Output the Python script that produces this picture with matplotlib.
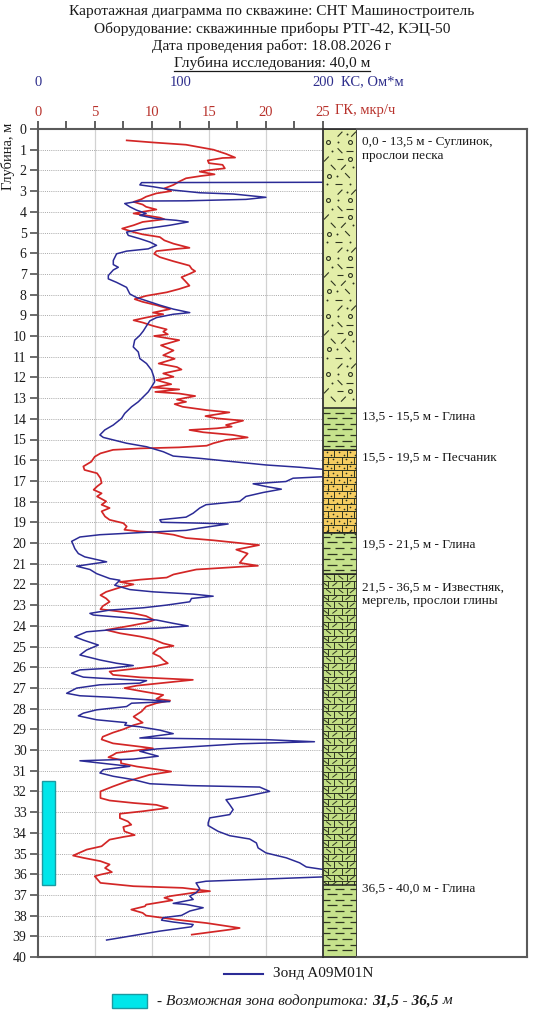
import matplotlib
matplotlib.use('Agg')
import matplotlib.pyplot as plt
from matplotlib.patches import Rectangle
from matplotlib.lines import Line2D
import numpy as np

plt.rcParams['font.family'] = ['Liberation Serif', 'DejaVu Serif']

# ---------------- data ----------------
title_lines = ["Каротажная диаграмма по скважине: СНТ Машиностроитель",
               "Оборудование: скважинные приборы РТГ-42, КЭЦ-50",
               "Дата проведения работ: 18.08.2026 г",
               "Глубина исследования: 40,0 м"]

gk_ticks = [0, 5, 10, 15, 20, 25]
kc_ticks = [0, 100, 200]
depth_ticks = list(range(0, 41))

gk_depth = [0.55, 0.65, 0.76, 1.0, 1.2, 1.38, 1.4, 1.52, 1.65, 1.73, 1.9, 1.98, 2.06, 2.19, 2.27, 2.38,
            2.54, 2.7, 2.87, 3.0, 3.11, 3.27, 3.39, 3.52, 3.65, 3.76, 3.89, 4.0, 4.08, 4.13, 4.28, 4.36,
            4.49, 4.65, 4.81, 4.98, 5.09, 5.22, 5.38, 5.54, 5.74, 5.79, 5.9, 6.03, 6.19, 6.39, 6.6, 6.76,
            6.87, 7.0, 7.16, 7.33, 7.57, 7.73, 7.89, 8.06, 8.22, 8.35, 8.51, 8.7, 8.87, 8.95, 9.11, 9.24,
            9.35, 9.51, 9.68, 9.79, 9.92, 10.0, 10.2, 10.45, 10.7, 10.93, 11.1, 11.33, 11.5, 11.62, 11.81,
            11.97, 12.13, 12.33, 12.49, 12.58, 12.7, 12.78, 12.9, 13.07, 13.18, 13.29, 13.42, 13.58, 13.69,
            13.87, 13.98, 14.09, 14.3, 14.38, 14.46, 14.54, 14.65, 14.78, 14.9, 15.02, 15.18, 15.3, 15.38,
            15.43, 15.5, 15.67, 15.83, 16.07, 16.3, 16.47, 16.63, 16.87, 17.1, 17.27, 17.43, 17.6, 17.75,
            17.99, 18.15, 18.31, 18.47, 18.72, 18.88, 19.04, 19.2, 19.36, 19.44, 19.49, 19.6, 19.76, 19.87,
            20.0, 20.1, 20.32, 20.51, 20.75, 20.96, 21.1, 21.15, 21.28, 21.52, 21.67, 21.77, 21.88, 22.0,
            22.15, 22.36, 22.52, 22.68, 22.84, 23.05, 23.2, 23.29, 23.4, 23.53, 23.72, 23.85, 24.0, 24.2,
            24.36, 24.52, 24.65, 24.85, 24.97, 25.09, 25.33, 25.49, 25.65, 25.81, 25.94, 26.06, 26.21,
            26.37, 26.49, 26.61, 26.74, 26.89, 27.01, 27.17, 27.34, 27.53, 27.61, 27.74, 27.9, 28.14,
            28.39, 28.68, 28.8, 29.0, 29.16, 29.36, 29.49, 29.68, 29.84, 29.92, 30.14, 30.24, 30.35, 30.48,
            30.64, 30.8, 30.93, 31.04, 31.2, 31.41, 31.52, 31.76, 32.0, 32.32, 32.44, 32.56, 32.65, 32.8,
            32.96, 33.08, 33.29, 33.45, 33.61, 33.72, 33.93, 34.11, 34.2, 34.33, 34.65, 34.81, 35.1, 35.21,
            35.37, 35.53, 35.7, 35.9, 36.02, 36.1, 36.29, 36.42, 36.58, 36.66, 36.82, 36.9, 37.06, 37.14,
            37.26, 37.39, 37.47, 37.55, 37.71, 37.87, 38.0, 38.2, 38.36, 38.6, 38.68, 38.92]
gk_value = [7.8, 10.1, 13.0, 15.4, 16.5, 17.3, 16.2, 14.9, 15.0, 16.2, 16.4, 15.1, 14.2, 15.5, 14.3, 13.0,
            12.4, 11.9, 11.1, 11.7, 10.4, 9.5, 9.1, 8.4, 9.2, 9.5, 10.4, 9.2, 8.4, 9.0, 10.7, 11.1,
            9.2, 8.4, 7.4, 8.4, 9.2, 10.7, 11.1, 11.9, 13.3, 12.2, 10.4, 10.2, 10.7, 11.9, 13.3, 13.5,
            13.8, 13.3, 12.6, 12.9, 13.3, 12.4, 11.3, 9.5, 8.5, 9.2, 10.4, 11.6, 10.1, 11.0, 9.5, 8.4,
            9.2, 10.1, 11.3, 11.0, 11.4, 10.2, 12.4, 10.8, 11.9, 11.0, 12.0, 10.6, 12.2, 12.6, 11.0,
            11.9, 10.4, 11.7, 10.1, 12.4, 10.3, 12.4, 13.8, 12.2, 13.0, 12.0, 12.7, 14.8, 16.8,
            14.7, 15.7, 18.0, 16.5, 17.0, 15.7, 13.3, 14.5, 17.1, 18.4, 16.5, 15.4, 14.8, 12.4,
            9.0, 6.6, 5.5, 5.0, 4.7, 4.0, 4.1, 5.2, 5.5, 5.6, 5.2, 4.9, 5.6, 5.2,
            6.0, 5.6, 6.3, 5.6, 5.9, 6.3, 7.5, 7.8, 7.6, 8.9, 10.4, 11.9, 13.0, 15.4,
            17.7, 19.4, 17.4, 18.4, 18.0, 17.7, 19.3, 17.7, 13.9, 11.9, 11.3, 9.0, 7.2, 8.4,
            7.2, 6.0, 5.5, 6.0, 6.3, 5.7, 5.5, 6.9, 8.4, 9.5, 10.2, 9.5, 8.1, 6.0,
            7.2, 9.0, 10.1, 11.0, 11.9, 10.6, 10.1, 10.7, 11.0, 11.4, 10.4, 8.7, 6.3,
            6.6, 9.0, 13.6, 11.3, 8.7, 7.6, 9.2, 11.0, 10.4, 11.6, 10.4, 9.5, 9.1,
            8.4, 9.2, 8.4, 7.5, 6.6, 5.7, 5.6, 6.6, 9.0, 10.1, 6.9, 6.6, 6.2, 7.3,
            7.3, 8.7, 10.4, 11.7, 9.8, 8.5, 7.8, 6.6, 5.5, 5.5, 6.3, 8.4, 10.4, 11.4,
            9.2, 7.2, 7.2, 7.9, 8.2, 7.5, 7.6, 8.5, 7.5, 6.3, 5.6, 4.3, 3.1, 4.0,
            5.5, 6.3, 5.9, 6.5, 5.5, 5.0, 5.3, 5.5, 8.4, 12.7, 15.1, 13.6, 11.6, 11.1,
            11.8, 10.4, 9.5, 9.4, 8.2, 9.2, 9.5, 12.2, 14.8, 17.7, 16.8, 13.5]

kc_depth = [2.57, 2.59, 2.7, 2.79, 2.95, 3.08, 3.14, 3.3, 3.4, 3.47, 3.48, 3.6, 3.76, 3.92, 4.08, 4.17,
            4.33, 4.41, 4.49, 4.65, 4.81, 4.98, 5.14, 5.3, 5.46, 5.62, 5.79, 5.9, 6.03, 6.35, 6.55, 6.68,
            6.81, 7.08, 7.24, 7.41, 7.65, 7.97, 8.14, 8.3, 8.51, 8.7, 8.87, 8.95, 9.11, 9.27, 9.51, 9.76,
            9.97, 10.2, 10.53, 10.77, 11.09, 11.33, 11.65, 11.97, 12.21, 12.46, 12.7, 12.94, 13.18, 13.42,
            13.74, 13.98, 14.3, 14.54, 14.78, 14.9, 15.18, 15.35, 15.59, 15.8, 15.91, 16.07, 16.23, 16.34,
            16.44, 16.6, 16.77, 16.8, 16.87, 17.03, 17.14, 17.27, 17.4, 17.56, 17.75, 17.99, 18.15, 18.31,
            18.56, 18.75, 18.88, 19.0, 19.04, 19.08, 19.28, 19.39, 19.49, 19.6, 19.71, 19.92, 20.1, 20.27,
            20.51, 20.67, 20.91, 21.0, 21.12, 21.28, 21.48, 21.72, 21.8, 22.04, 22.25, 22.36, 22.47, 22.57,
            22.68, 22.84, 23.0, 23.13, 23.24, 23.4, 23.48, 23.64, 23.72, 23.88, 24.01, 24.12, 24.17, 24.29,
            24.53, 24.69, 24.93, 25.17, 25.41, 25.65, 25.81, 25.92, 26.05, 26.13, 26.29, 26.48, 26.53,
            26.65, 26.77, 26.85, 27.01, 27.26, 27.38, 27.45, 27.58, 27.66, 27.74, 27.9, 28.06, 28.22,
            28.35, 28.54, 28.68, 28.8, 28.88, 29.04, 29.21, 29.42, 29.5, 29.6, 29.7, 29.95, 30.06, 30.3,
            30.44, 30.52, 30.63, 30.79, 30.95, 31.11, 31.27, 31.43, 31.63, 31.72, 31.79, 32.0, 32.24, 32.4,
            32.64, 32.88, 33.12, 33.28, 33.52, 33.65, 33.93, 34.14, 34.3, 34.49, 34.73, 34.97, 35.21, 35.45,
            35.65, 35.77, 35.95, 36.13, 36.23, 36.34, 36.42, 36.71, 36.9, 37.06, 37.22, 37.41, 37.46,
            37.62, 37.78, 37.99, 38.1, 38.22, 38.31, 38.43, 38.54, 38.75, 38.91, 39.18]
kc_value = [230, 72.8, 71.6, 81, 95, 113.6, 137, 160, 146, 104, 71.6, 61, 64.6, 69.3, 76, 71.6,
            83, 97, 105.5, 92.6, 76.3, 62.3, 63.5, 71.6, 78.6, 83.3, 77.5, 62.3, 55.3, 53, 53, 56.5,
            53, 49.5, 49.5, 55.3, 62.3, 64.6, 69.3, 76.3, 85.6, 95, 106.6, 95, 83.3, 78.6, 76.3, 74,
            71.6, 68, 67, 70.5, 71.6, 76.3, 79.8, 81.4, 82, 79.8, 77.5, 74, 70.5, 65.8,
            61, 58.8, 53, 47, 43.6, 46, 62.3, 76.3, 88, 95, 113.6, 137, 160, 183.6,
            200, 240, 230, 200, 179, 174, 151, 160, 170.8, 158, 146, 141.6, 118, 113.6,
            109, 104, 85.6, 86.8, 113.6, 133.5, 113.6, 104, 74, 43.6, 29.6, 23.8, 25, 26,
            28.5, 33, 48.3, 39, 27.3, 36.6, 41.3, 50.6, 57.6, 54, 64.6, 81, 109, 123,
            107.8, 106.6, 90.3, 74, 50.6, 36.6, 39, 67, 83.3, 95, 105.5, 83.3, 55.3, 34.3,
            26, 32, 42.5, 34.3, 29.6, 43.6, 55.3, 67, 50.6, 29.6, 23.8, 32, 43.6,
            76.3, 71.6, 43.6, 27.3, 20.3, 29.6, 50.6, 78.6, 92.6, 65.8, 62.3, 41.3, 32,
            28.5, 41.3, 62.3, 61, 71.6, 85.6, 95, 71.6, 160, 194, 141.6, 83.3, 71.6, 84.5,
            67, 29.6, 43.6, 64.6, 46, 43.6, 53, 67, 78.6, 106.6, 155.6, 162.6, 146, 132,
            134.6, 137, 134.6, 120.6, 119.5, 119.5, 126.5, 134.6, 148.6, 153.3, 154.5, 160, 174.3, 183.6,
            188.3, 200, 230, 200, 160, 118, 111, 113.6, 111, 106.6, 109, 95, 104,
            116, 106.6, 100.8, 88, 86.8, 95, 109, 107.8, 85.6, 71.6, 48.3]

layer_top = [0.0, 13.5, 15.5, 19.5, 21.5, 36.5]
layer_bottom = [13.5, 15.5, 19.5, 21.5, 36.5, 40.0]
layer_kind = ['loam', 'clay', 'sandstone', 'clay', 'limestone', 'clay']
layer_label = ["0,0 - 13,5 м - Суглинок,\nпрослои песка",
               "13,5 - 15,5 м - Глина",
               "15,5 - 19,5 м - Песчаник",
               "19,5 - 21,5 м - Глина",
               "21,5 - 36,5 м - Известняк,\nмергель, прослои глины",
               "36,5 - 40,0 м - Глина"]
label_y = [0.35, 13.6, 15.6, 19.8, 21.85, 36.4]

zone_top, zone_bottom = 31.5, 36.5
legend_probe = "Зонд A09M01N"
legend_zone_a = "- Возможная зона водопритока: "
legend_zone_b = "31,5 - 36,5"
legend_zone_c = " м"

# ---------------- styles ----------------
RED = '#d32626'
BLUE = '#2b2b96'
RED_T = '#b8322c'
BLUE_T = '#2e2e8c'
SPINE = '#5a5a5a'
kind_color = {'loam': '#e3eea8', 'clay': '#c6e28c', 'sandstone': '#f6cd60', 'limestone': '#c2de84'}
PAT = '#2e3520'

W, H = 534, 1024
fig = plt.figure(figsize=(W / 100, H / 100), dpi=100)


def fx(px):
    return px / W


def fy(py):
    return 1 - py / H


X0, X1, XC, XR = 37.7, 323.0, 357.0, 527.0
Y0, Y1 = 129.0, 957.0

# titles
for i, t in enumerate(title_lines):
    fig.text(fx(272), fy(12 + i * 16.9), t, ha='center', va='center', fontsize=11.1, color='#1a1a1a')

# main axes
ax = fig.add_axes([fx(X0), fy(Y1), (X1 - X0) / W, (Y1 - Y0) / H])
ax.set_xlim(0, 25)
ax.set_ylim(40, 0)
for v in gk_ticks[1:-1]:
    ax.axvline(v, color='#d2d2d2', lw=0.9, zorder=0)
for d in depth_ticks[1:-1]:
    ax.axhline(d, color='#a8a8a8', lw=0.7, ls=(0, (1, 1.2)), zorder=0)
for s in ['left', 'top', 'bottom']:
    ax.spines[s].set_color(SPINE)
    ax.spines[s].set_linewidth(1.5)
ax.spines['right'].set_visible(False)

ax.add_patch(Rectangle((0.4, zone_top), 1.1, zone_bottom - zone_top, facecolor='#00e6ea',
                       edgecolor='#1b9aa2', lw=1.0, zorder=2))
ax.plot(gk_value, gk_depth, color=RED, lw=1.25, zorder=4)

ax2 = ax.twiny()
ax2.set_xlim(0, 200)
ax2.set_ylim(40, 0)
ax2.set_xticks(kc_ticks)
ax2.tick_params(axis='x', length=0, labelsize=10.5, labelcolor=BLUE_T, pad=29)
for s in ax2.spines.values():
    s.set_visible(False)
ax2.plot(kc_value, kc_depth, color=BLUE, lw=1.1, zorder=3)

# GK ticks on top (after twiny)
ax.xaxis.set_ticks_position('top')
ax.xaxis.set_label_position('top')
ax.set_xticks(gk_ticks)
ax.set_xticks(np.arange(0, 25.01, 2.5), minor=True)
ax.tick_params(axis='x', which='both', direction='out', length=6, width=1.1, color='#333',
               top=True, bottom=False, labeltop=True, labelbottom=False)
ax.tick_params(axis='x', which='major', labelsize=10.5, labelcolor=RED_T, pad=1.5)
ax.tick_params(axis='x', which='minor', labeltop=False)
ax.set_yticks(depth_ticks)
ax.tick_params(axis='y', direction='out', length=6, width=1.1, color='#444', labelsize=10, pad=2,
               labelcolor='#1a1a1a')

fig.text(fx(335), fy(110.5), "ГК, мкр/ч", ha='left', va='center', fontsize=10.5, color=RED_T)
fig.text(fx(341), fy(82), "КС, Ом*м", ha='left', va='center', fontsize=10.5, color=BLUE_T)
fig.text(fx(8), fy(156), "Глубина, м", rotation=90, ha='center', va='center', fontsize=10.5,
         color='#1a1a1a')

# lithology column
axc = fig.add_axes([fx(X1), fy(Y1), (XC - X1) / W, (Y1 - Y0) / H])
axc.set_xlim(0, 1)
axc.set_ylim(40, 0)
axc.set_xticks([])
axc.set_yticks([])
for s in axc.spines.values():
    s.set_color('#333')
    s.set_linewidth(1.3)


def seg(x0, y0, x1, y1, lw=0.8):
    axc.plot([x0, x1], [y0, y1], color=PAT, lw=lw, solid_capstyle='butt')


def draw_loam(top, bot):
    rows = [[('/', 0.5), ('.', 0.7), ('/', 0.9)],
            [('o', 0.14), ('.', 0.45), ('o', 0.78)],
            [('.', 0.25), ('\\', 0.5), ('-', 0.78)],
            [('/', 0.1), ('-', 0.5), ('o', 0.8)],
            [('\\', 0.3), ('/', 0.6), ('.', 0.88)],
            [('o', 0.18), ('.', 0.42), ('\\', 0.72)],
            [('.', 0.12), ('-', 0.45), ('.', 0.8)]]
    step = 0.4
    y = top + 0.25
    i = 0
    while y < bot - 0.15:
        for kind, x in rows[i % len(rows)]:
            if kind == '.':
                axc.plot([x], [y], marker='o', ms=1.4, color=PAT, mew=0)
            elif kind == 'o':
                axc.plot([x], [y], marker='o', ms=2.8, mfc='none', mec=PAT, mew=0.8)
            elif kind == '/':
                seg(x - 0.07, y + 0.12, x + 0.07, y - 0.12)
            elif kind == '\\':
                seg(x - 0.07, y - 0.12, x + 0.07, y + 0.12)
            else:
                seg(x - 0.1, y, x + 0.1, y)
        y += step
        i += 1


def draw_clay(top, bot):
    step = 0.27
    y = top + 0.2
    i = 0
    while y < bot - 0.1:
        if i % 2 == 0:
            segs = [(0.0, 0.22), (0.36, 0.62), (0.78, 1.0)]
        else:
            segs = [(0.12, 0.4), (0.56, 0.86)]
        for a, b in segs:
            seg(a, y, b, y, lw=0.9)
        y += step
        i += 1


def draw_bricks(top, bot, fill):
    step = 0.33
    y = top
    i = 0
    while y < bot - 1e-6:
        y2 = min(y + step, bot)
        seg(0, y, 1, y, lw=0.7)
        xs = [0.33, 0.72] if i % 2 == 0 else [0.14, 0.55, 0.92]
        for xv in xs:
            seg(xv, y, xv, y2, lw=0.7)
        edges = [0.0] + xs + [1.0]
        for a, b in zip(edges[:-1], edges[1:]):
            if b - a < 0.12:
                continue
            xm = (a + b) / 2
            ym = (y + y2) / 2
            if fill == 'dot':
                axc.plot([xm - 0.06], [ym - 0.05], marker='o', ms=1.2, color=PAT, mew=0)
                axc.plot([xm + 0.08], [ym + 0.07], marker='o', ms=1.2, color=PAT, mew=0)
            else:
                if (i + int(xm * 10)) % 2 == 0:
                    seg(xm - 0.07, ym + 0.09, xm + 0.07, ym - 0.09, lw=0.7)
                else:
                    seg(xm - 0.07, ym - 0.09, xm + 0.07, ym + 0.09, lw=0.7)
        y = y2
        i += 1


for t, b, k in zip(layer_top, layer_bottom, layer_kind):
    axc.add_patch(Rectangle((0, t), 1, b - t, facecolor=kind_color[k], edgecolor='none', zorder=0))
    if k == 'loam':
        draw_loam(t, b)
    elif k == 'clay':
        draw_clay(t, b)
    elif k == 'sandstone':
        draw_bricks(t, b, 'dot')
    else:
        draw_bricks(t, b, 'tick')
    axc.plot([0, 1], [t, t], color='#222', lw=1.1)

# description area
axt = fig.add_axes([fx(XC), fy(Y1), (XR - XC) / W, (Y1 - Y0) / H])
axt.set_xlim(0, 1)
axt.set_ylim(40, 0)
axt.set_xticks([])
axt.set_yticks([])
axt.spines['left'].set_visible(False)
for s in ['top', 'right', 'bottom']:
    axt.spines[s].set_color(SPINE)
    axt.spines[s].set_linewidth(1.5)
for lab, yl in zip(layer_label, label_y):
    axt.text(0.03, yl, lab, ha='left', va='top', fontsize=9.5, color='#1a1a1a', linespacing=1.15)

# legend
fig.add_artist(Line2D([fx(224), fx(263)], [fy(974), fy(974)], color=BLUE, lw=1.5))
fig.text(fx(273), fy(974), legend_probe, ha='left', va='center', fontsize=11, color='#1a1a1a')
fig.add_artist(Rectangle((fx(112), fy(1008)), 35 / W, 14 / H, transform=fig.transFigure,
                         facecolor='#00e6ea', edgecolor='#1b9aa2', lw=1.0))

fig.canvas.draw()
renderer = fig.canvas.get_renderer()
xcur = 157
# underline last title line
t_last = fig.texts[3]
bb = t_last.get_window_extent(renderer)
fig.add_artist(Line2D([bb.x0 / W, bb.x1 / W], [fy(70.5), fy(70.5)], color='#1a1a1a', lw=0.9))

for txt, wgt in [(legend_zone_a, 'normal'), (legend_zone_b, 'bold'), (legend_zone_c, 'normal')]:
    tt = fig.text(fx(xcur), fy(1001), txt, ha='left', va='center', fontsize=11, style='italic',
                  weight=wgt, color='#1a1a1a')
    ext = tt.get_window_extent(renderer)
    xcur += ext.width

fig.savefig('out.png', dpi=100)
